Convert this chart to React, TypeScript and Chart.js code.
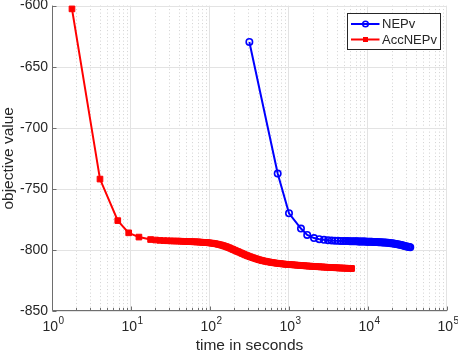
import React, { useEffect, useRef } from "react";
import { Chart, registerables } from "chart.js";

Chart.register(...registerables);

// ---- data ----
const nepvTime = [
  315, 719, 1000, 1417, 1700, 2072, 2420, 2770, 3120, 3470, 3820, 4170, 4520,
  4870, 5220, 5570, 5920, 6270, 6620, 6970, 7280, 7570, 7870, 8180, 8510, 8850,
  9200, 9570, 9950, 10350, 10760, 11190, 11640, 12110, 12590, 13090, 13620,
  14160, 14730, 15320, 15930, 16570, 17230, 17920, 18640, 19380, 20160, 20970,
  21800, 22680, 23580, 24530, 25510, 26530, 27590, 28690, 29840, 31040, 32280,
  33300, 34300,
];
const nepvValue = [
  -629.8, -737.5, -770, -782.5, -787.7, -790.3, -791.2, -791.7, -792.0, -792.2,
  -792.4, -792.5, -792.6, -792.7, -792.75, -792.8, -792.85, -792.9, -792.95,
  -793.0, -793.0, -793.05, -793.1, -793.1, -793.15, -793.2, -793.2, -793.25,
  -793.3, -793.3, -793.35, -793.4, -793.45, -793.5, -793.55, -793.6, -793.65,
  -793.7, -793.8, -793.85, -793.9, -794.0, -794.1, -794.2, -794.35, -794.5,
  -794.6, -794.75, -794.9, -795.1, -795.3, -795.5, -795.75, -796.0, -796.3,
  -796.6, -796.9, -797.2, -797.5, -797.7, -797.9,
];
const accTime = [
  1.79, 4.05, 6.8, 9.35, 12.6, 17.7, 20.5, 23.3, 26.1, 28.9, 31.7, 34.5, 37.3,
  40.1, 42.9, 45.7, 48.5, 51.3, 54.1, 56.9, 59.7, 62.5, 65.3, 68.2, 71.3, 74.5,
  77.9, 81.4, 85.1, 88.9, 92.9, 97.1, 101.5, 106.1, 110.9, 115.9, 121.1, 126.5,
  132.2, 138.2, 144.4, 150.9, 157.7, 164.8, 172.2, 180.0, 188.1, 196.6, 205.4,
  214.7, 224.3, 234.4, 245.0, 256.0, 267.5, 279.5, 292.1, 305.3, 319.0, 333.4,
  348.4, 364.1, 380.5, 397.6, 415.5, 434.2, 453.7, 474.1, 495.5, 517.8, 541.1,
  565.4, 590.9, 617.5, 645.3, 674.3, 704.7, 736.4, 769.5, 804.2, 840.4, 878.2,
  917.7, 959.0, 1002, 1047, 1094, 1144, 1195, 1249, 1305, 1364, 1425, 1490,
  1557, 1627, 1700, 1776, 1856, 1940, 2027, 2118, 2214, 2313, 2417, 2526, 2640,
  2759, 2883, 3013, 3148, 3290, 3438, 3593, 3754, 3923, 4100, 4285, 4477, 4679,
  4889, 5109, 5339, 5580, 5831, 6093, 6200,
];
const accValue = [
  -602.7, -742, -776, -786, -789.5, -791.5, -791.9, -792.2, -792.4, -792.5,
  -792.6, -792.7, -792.75, -792.8, -792.9, -793.0, -793.05, -793.1, -793.2,
  -793.25, -793.3, -793.35, -793.4, -793.45, -793.5, -793.6, -793.7, -793.8,
  -793.85, -793.95, -794.05, -794.2, -794.35, -794.5, -794.7, -794.9, -795.1,
  -795.4, -795.7, -796.0, -796.35, -796.75, -797.15, -797.6, -798.1, -798.6,
  -799.15, -799.7, -800.25, -800.8, -801.3, -801.85, -802.4, -802.95, -803.5,
  -804.05, -804.55, -805.05, -805.5, -805.95, -806.35, -806.8, -807.2, -807.6,
  -808.0, -808.35, -808.65, -808.95, -809.2, -809.45, -809.7, -809.95, -810.15,
  -810.35, -810.55, -810.75, -810.9, -811.05, -811.2, -811.35, -811.5, -811.65,
  -811.75, -811.85, -811.95, -812.05, -812.15, -812.25, -812.35, -812.45,
  -812.55, -812.65, -812.75, -812.85, -812.95, -813.05, -813.15, -813.25,
  -813.3, -813.4, -813.45, -813.55, -813.65, -813.75, -813.8, -813.9, -813.95,
  -814.05, -814.1, -814.2, -814.25, -814.35, -814.4, -814.5, -814.55, -814.6,
  -814.65, -814.75, -814.8, -814.85, -814.9, -814.95, -815.0, -815.05, -815.1,
  -815.15, -815.2,
];
const yTicks = [-850, -800, -750, -700, -650, -600];
const xDecades = [1, 10, 100, 1000, 10000, 100000];
const xTickBase = "10";
const xTickExponents = ["0", "1", "2", "3", "4", "5"];
const seriesNames = ["NEPv", "AccNEPv"];

const FONT = "'Liberation Sans', Arial, Helvetica, sans-serif";
const TEXT = "#262626";
const AXIS = "#6e6e6e";
const BLUE = "#0000ff";
const RED = "#ff0000";

const gridPlugin = {
  id: "matlabGrid",
  beforeDatasetsDraw(chart: any) {
    const { ctx, chartArea, scales } = chart;
    const { left, right, top, bottom } = chartArea;
    const x = scales.x;
    const y = scales.y;
    ctx.save();
    ctx.lineWidth = 1;
    ctx.strokeStyle = "#d2d2d2";
    ctx.setLineDash([1, 2.5]);
    for (let d = 0; d < xDecades.length - 1; d++) {
      for (let k = 2; k <= 9; k++) {
        const px = Math.round(x.getPixelForValue(k * xDecades[d])) + 0.5;
        ctx.beginPath();
        ctx.moveTo(px, top);
        ctx.lineTo(px, bottom);
        ctx.stroke();
      }
    }
    ctx.setLineDash([]);
    ctx.strokeStyle = "#e3e3e3";
    for (let d = 1; d < xDecades.length; d++) {
      const px = Math.round(x.getPixelForValue(xDecades[d])) - 0.5;
      ctx.beginPath();
      ctx.moveTo(px, top);
      ctx.lineTo(px, bottom);
      ctx.stroke();
    }
    for (const v of yTicks) {
      const py = Math.round(y.getPixelForValue(v)) + 0.5;
      ctx.beginPath();
      ctx.moveTo(left, py);
      ctx.lineTo(right, py);
      ctx.stroke();
    }
    ctx.restore();
  },
  afterDatasetsDraw(chart: any) {
    const { ctx, chartArea, scales } = chart;
    const { left, right, top, bottom } = chartArea;
    const x = scales.x;
    const y = scales.y;
    ctx.save();
    ctx.strokeStyle = AXIS;
    ctx.lineWidth = 1;
    const lx = Math.round(left) + 0.5;
    const by = Math.round(bottom) - 0.5;
    ctx.beginPath();
    ctx.moveTo(lx, top);
    ctx.lineTo(lx, by);
    ctx.lineTo(right, by);
    ctx.stroke();
    ctx.beginPath();
    for (let d = 0; d < xDecades.length; d++) {
      const px = Math.round(x.getPixelForValue(xDecades[d])) + 0.5;
      ctx.moveTo(px, by);
      ctx.lineTo(px, by - 4);
      if (d < xDecades.length - 1) {
        for (let k = 2; k <= 9; k++) {
          const mx = Math.round(x.getPixelForValue(k * xDecades[d])) + 0.5;
          ctx.moveTo(mx, by);
          ctx.lineTo(mx, by - 2.5);
        }
      }
    }
    for (const v of yTicks) {
      const py = Math.round(y.getPixelForValue(v)) + 0.5;
      ctx.moveTo(lx, py);
      ctx.lineTo(lx + 4, py);
    }
    ctx.stroke();

    // x tick labels 10^n
    ctx.fillStyle = TEXT;
    ctx.textBaseline = "alphabetic";
    ctx.textAlign = "left";
    for (let d = 0; d < xDecades.length; d++) {
      const px = x.getPixelForValue(xDecades[d]);
      ctx.font = `14px ${FONT}`;
      const wb = ctx.measureText(xTickBase).width;
      ctx.font = `10px ${FONT}`;
      const we = ctx.measureText(xTickExponents[d]).width;
      const sx = px - (wb + we) / 2 + 1;
      ctx.font = `14px ${FONT}`;
      ctx.fillText(xTickBase, sx, bottom + 20);
      ctx.font = `10px ${FONT}`;
      ctx.fillText(xTickExponents[d], sx + wb + 0.5, bottom + 13);
    }
    ctx.restore();
  },
  afterDraw(chart: any) {
    const { ctx, chartArea } = chart;
    const bx = Math.round(chartArea.right) - 100 + 0.5;
    const byy = Math.round(chartArea.top) + 7 + 0.5;
    const bw = 93;
    const bh = 36;
    ctx.save();
    ctx.fillStyle = "#ffffff";
    ctx.fillRect(bx, byy, bw, bh);
    ctx.strokeStyle = TEXT;
    ctx.lineWidth = 1;
    ctx.strokeRect(bx, byy, bw, bh);
    const rows = [byy + 10.5, byy + 26];
    const colors = [BLUE, RED];
    for (let i = 0; i < 2; i++) {
      const ry = rows[i];
      ctx.strokeStyle = colors[i];
      ctx.lineWidth = 2;
      ctx.beginPath();
      ctx.moveTo(bx + 3.5, ry);
      ctx.lineTo(bx + 32, ry);
      ctx.stroke();
      const mx = bx + 18;
      if (i === 0) {
        ctx.lineWidth = 1.5;
        ctx.beginPath();
        ctx.arc(mx, ry, 2.8, 0, Math.PI * 2);
        ctx.stroke();
      } else {
        ctx.fillStyle = RED;
        ctx.fillRect(mx - 2.5, ry - 2.5, 5, 5);
      }
      ctx.fillStyle = TEXT;
      ctx.font = `13px ${FONT}`;
      ctx.textBaseline = "middle";
      ctx.textAlign = "left";
      ctx.fillText(seriesNames[i], bx + 34.5, ry + 0.5);
    }
    ctx.restore();
  },
};

export default function App() {
  const ref = useRef<HTMLCanvasElement | null>(null);
  useEffect(() => {
    if (!ref.current) return;
    const chart = new Chart(ref.current, {
      type: "line",
      data: {
        datasets: [
          {
            label: seriesNames[0],
            data: nepvTime.map((t, i) => ({ x: t, y: nepvValue[i] })),
            borderColor: BLUE,
            borderWidth: 2,
            pointStyle: "circle",
            pointRadius: 3.2,
            pointBorderWidth: 1.6,
            pointBorderColor: BLUE,
            pointBackgroundColor: "rgba(0,0,0,0)",
            tension: 0,
            clip: false as any,
          },
          {
            label: seriesNames[1],
            data: accTime.map((t, i) => ({ x: t, y: accValue[i] })),
            borderColor: RED,
            borderWidth: 2,
            pointStyle: "rect",
            pointRadius: 4,
            pointBorderWidth: 1,
            pointBorderColor: RED,
            pointBackgroundColor: RED,
            tension: 0,
            clip: false as any,
          },
        ],
      },
      options: {
        animation: false,
        responsive: false,
        devicePixelRatio: 1,
        events: [],
        layout: { padding: { left: 0, top: 5, right: 11, bottom: 0 } },
        plugins: {
          legend: { display: false },
          tooltip: { enabled: false },
        },
        scales: {
          x: {
            type: "logarithmic",
            min: 1,
            max: 100000,
            afterBuildTicks: (axis: any) => {
              axis.ticks = xDecades.map((v) => ({ value: v }));
            },
            afterFit: (axis: any) => {
              axis.height = 44;
              axis.paddingLeft = 0;
              axis.paddingRight = 0;
            },
            grid: { display: false, drawTicks: false },
            border: { display: false },
            ticks: { display: false },
            title: {
              display: true,
              text: "time in seconds",
              color: TEXT,
              font: { family: FONT, size: 15.5 },
              padding: { top: 0, bottom: 0 },
            },
          },
          y: {
            type: "linear",
            min: -850,
            max: -600,
            afterBuildTicks: (axis: any) => {
              axis.ticks = yTicks.map((v) => ({ value: v }));
            },
            afterFit: (axis: any) => {
              axis.width = 52;
              axis.paddingTop = 0;
              axis.paddingBottom = 0;
            },
            grid: { display: false, drawTicks: false },
            border: { display: false },
            ticks: {
              padding: 4,
              color: TEXT,
              font: { family: FONT, size: 14 },
              callback: (v: any) => String(v),
            },
            title: {
              display: true,
              text: "objective value",
              color: TEXT,
              font: { family: FONT, size: 15.5, lineHeight: 1.1 },
              padding: { top: 0, bottom: 0 },
            },
          },
        },
      },
      plugins: [gridPlugin],
    });
    return () => chart.destroy();
  }, []);
  return (
    <div style={{ position: "absolute", left: 0, top: 0, width: 458, height: 355 }}>
      <canvas ref={ref} width={458} height={355} style={{ width: 458, height: 355 }} />
    </div>
  );
}
